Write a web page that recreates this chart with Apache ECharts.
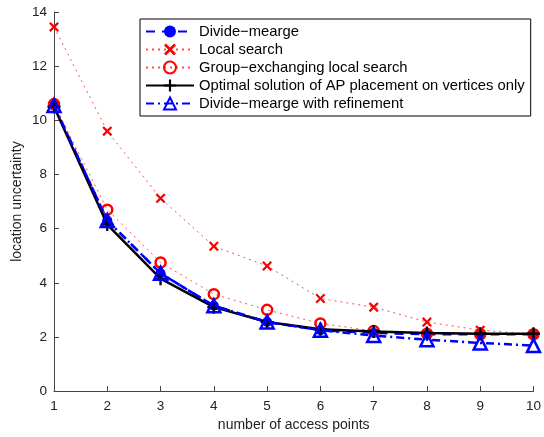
<!DOCTYPE html>
<html>
<head>
<meta charset="utf-8">
<script src="https://cdn.jsdelivr.net/npm/echarts@6/dist/echarts.min.js"></script>
<style>
  html, body { margin: 0; padding: 0; background: #fff; }
  #chart { width: 544px; height: 437px; }
</style>
</head>
<body>
<div id="chart"></div>
<script>
// x: number of access points
var accessPoints = [1, 2, 3, 4, 5, 6, 7, 8, 9, 10];
// series values
var divideMearge = [10.55, 6.3, 4.35, 3.15, 2.55, 2.25, 2.15, 2.1, 2.1, 2.1];
var localSearch = [13.45, 9.6, 7.12, 5.35, 4.62, 3.42, 3.1, 2.55, 2.25, 2.1];
var groupExchanging = [10.6, 6.7, 4.75, 3.58, 3.0, 2.5, 2.22, 2.12, 2.1, 2.1];
var optimalVertices = [10.5, 6.15, 4.15, 3.1, 2.55, 2.28, 2.2, 2.15, 2.12, 2.12];
var divideRefine = [10.55, 6.3, 4.35, 3.15, 2.55, 2.25, 2.05, 1.9, 1.78, 1.68];
var yTicks = [0, 2, 4, 6, 8, 10, 12, 14];

var crossPath = 'path://M0,1.6L1.6,0L5,3.4L8.4,0L10,1.6L6.6,5L10,8.4L8.4,10L5,6.6L1.6,10L0,8.4L3.4,5Z';
var plusPath = 'path://M4.1,0L5.9,0L5.9,4.1L10,4.1L10,5.9L5.9,5.9L5.9,10L4.1,10L4.1,5.9L0,5.9L0,4.1L4.1,4.1Z';

function pairs(vals) {
  var out = [];
  for (var i = 0; i < accessPoints.length; i++) {
    out.push([accessPoints[i], vals[i]]);
  }
  return out;
}

var chart = echarts.init(document.getElementById('chart'), null, { renderer: 'canvas' });
var font = 'Liberation Sans, Arial, sans-serif';

chart.setOption({
  animation: false,
  backgroundColor: '#fff',
  textStyle: { fontFamily: font },
  grid: { left: 54, right: 7, top: 12, bottom: 44 },
  legend: {
    orient: 'vertical',
    left: 140,
    top: 19,
    padding: [5, 6, 5, 5],
    itemGap: 3,
    itemWidth: 48,
    itemHeight: 15,
    borderColor: '#000',
    borderWidth: 1,
    backgroundColor: '#fff',
    textStyle: { fontFamily: font, fontSize: 14.8, color: '#000', padding: [0, 0, 0, 0] },
    data: ['Divide\u2212mearge', 'Local search', 'Group\u2212exchanging local search',
      'Optimal solution of AP placement on vertices only', 'Divide\u2212mearge with refinement']
  },
  xAxis: {
    type: 'value',
    min: 1,
    max: 10,
    interval: 1,
    name: 'number of access points',
    nameLocation: 'middle',
    nameGap: 25,
    nameTextStyle: { fontFamily: font, fontSize: 14, color: '#222' },
    axisLine: { lineStyle: { color: '#444', width: 1 } },
    axisTick: { inside: true, length: 5, lineStyle: { color: '#444' } },
    axisLabel: { fontFamily: font, fontSize: 13.5, color: '#222', margin: 8 },
    splitLine: { show: false }
  },
  yAxis: {
    type: 'value',
    min: yTicks[0],
    max: yTicks[yTicks.length - 1],
    interval: 2,
    name: 'location uncertainty',
    nameLocation: 'middle',
    nameGap: 30,
    nameMoveOverlap: false,
    nameTextStyle: { fontFamily: font, fontSize: 14, color: '#222' },
    axisLine: { show: true, lineStyle: { color: '#444', width: 1 } },
    axisTick: { show: true, inside: true, length: 5, lineStyle: { color: '#444' } },
    axisLabel: { fontFamily: font, fontSize: 13.5, color: '#222', margin: 7 },
    splitLine: { show: false }
  },
  series: [
    {
      name: 'Divide\u2212mearge',
      type: 'line',
      data: pairs(divideMearge),
      symbol: 'circle',
      symbolSize: 10,
      itemStyle: { color: '#0000ff' },
      lineStyle: { color: '#0000ff', width: 2.5, type: [9, 7] },
      z: 2
    },
    {
      name: 'Local search',
      type: 'line',
      data: pairs(localSearch),
      symbol: crossPath,
      symbolSize: 10,
      itemStyle: { color: '#ff0000' },
      lineStyle: { color: '#ff5050', width: 1, type: [2, 4] },
      z: 3
    },
    {
      name: 'Group\u2212exchanging local search',
      type: 'line',
      data: pairs(groupExchanging),
      symbol: 'circle',
      symbolSize: 10,
      itemStyle: { color: 'rgba(255,255,255,0)', borderColor: '#ff0000', borderWidth: 2.5 },
      lineStyle: { color: '#ff5050', width: 1, type: [2, 4] },
      z: 4
    },
    {
      name: 'Optimal solution of AP placement on vertices only',
      type: 'line',
      data: pairs(optimalVertices),
      symbol: plusPath,
      symbolSize: 13,
      itemStyle: { color: '#000' },
      lineStyle: { color: '#000', width: 2.5 },
      z: 5
    },
    {
      name: 'Divide\u2212mearge with refinement',
      type: 'line',
      data: pairs(divideRefine),
      symbol: 'triangle',
      symbolSize: 13,
      itemStyle: { color: 'rgba(255,255,255,0)', borderColor: '#0000ff', borderWidth: 2.5 },
      lineStyle: { color: '#0000ff', width: 2.5, type: [8, 4, 2, 4] },
      z: 6
    }
  ]
});
</script>
</body>
</html>
